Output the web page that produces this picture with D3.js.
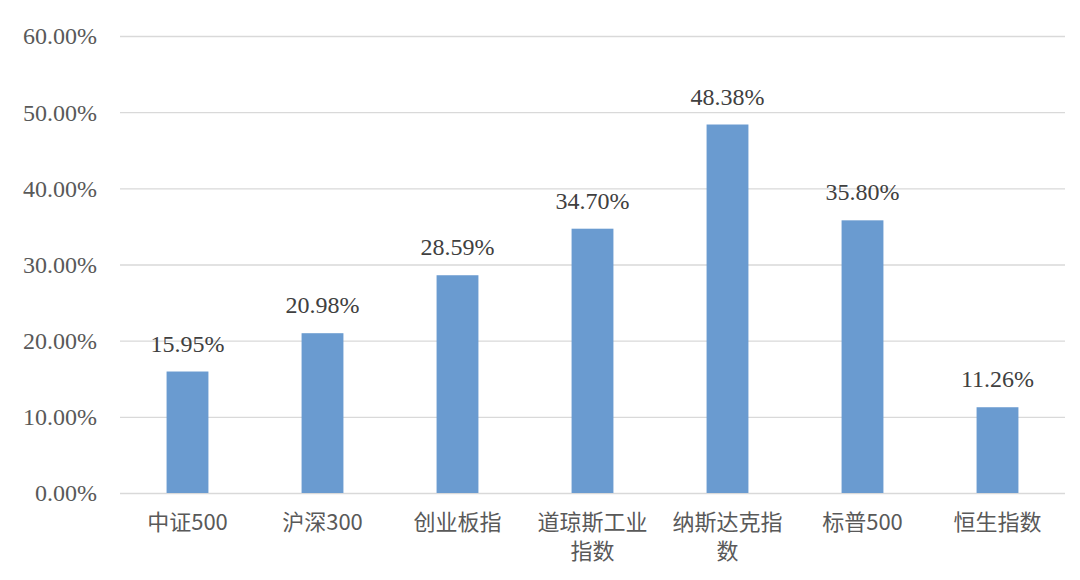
<!DOCTYPE html>
<html><head><meta charset="utf-8">
<script src="https://cdn.jsdelivr.net/npm/d3@7"></script>
<style>body{margin:0;background:#fff}</style>
</head><body>
<svg id="c" width="1080" height="580"></svg>
<script>
const categories = ["中证500","沪深300","创业板指","道琼斯工业指数","纳斯达克指数","标普500","恒生指数"];
const values = [15.95, 20.98, 28.59, 34.70, 48.38, 35.80, 11.26];
const yTicks = [0, 10, 20, 30, 40, 50, 60];

(function () {
const svg = d3.select("#c");
const mLeft = 120, mRight = 1065, mTop = 36, mBottom = 493;
const x = d3.scaleBand().domain(categories).range([mLeft, mRight]).paddingInner(0.69).paddingOuter(0.345);
const y = d3.scaleLinear().domain([0, 60]).range([mBottom, mTop]);

// grid
svg.append("g").selectAll("line").data(yTicks).join("line")
  .attr("x1", mLeft).attr("x2", mRight)
  .attr("y1", d => y(d) + 0.5).attr("y2", d => y(d) + 0.5)
  .attr("stroke", "#d9d9d9").attr("stroke-width", 1.3);

// y labels
svg.append("g").selectAll("text").data(yTicks).join("text")
  .attr("x", 97).attr("y", d => y(d)).attr("dy", "0.35em")
  .attr("text-anchor", "end")
  .attr("font-family", "'Liberation Serif', serif").attr("font-size", 24)
  .attr("fill", "#595959")
  .text(d => d.toFixed(2) + "%");

// bars
svg.append("g").selectAll("rect").data(values).join("rect")
  .attr("x", (d, i) => x(categories[i]))
  .attr("width", x.bandwidth())
  .attr("y", d => y(d))
  .attr("height", d => y(0) - y(d))
  .attr("fill", "#6a9bd0");

// value labels
svg.append("g").selectAll("text").data(values).join("text")
  .attr("x", (d, i) => x(categories[i]) + x.bandwidth() / 2)
  .attr("y", d => y(d) - 20)
  .attr("text-anchor", "middle")
  .attr("font-family", "'Liberation Serif', serif").attr("font-size", 24)
  .attr("fill", "#404040")
  .text(d => d.toFixed(2) + "%");

// x labels
const xl = svg.append("g").selectAll("text").data(categories).join("text")
  .attr("text-anchor", "middle")
  .attr("font-family", "'Noto Sans CJK SC', sans-serif").attr("font-size", 22)
  .attr("fill", "#595959");
xl.each(function(d) {
  const chars = Array.from(d);
  const lines = [];
  if (chars.length > 5) { lines.push(chars.slice(0, 5).join("")); lines.push(chars.slice(5).join("")); }
  else lines.push(d);
  const cx = x(d) + x.bandwidth() / 2;
  d3.select(this).selectAll("tspan").data(lines).join("tspan")
    .attr("x", cx).attr("y", (l, i) => 530 + i * 29).text(l => l);
});
})();
</script>
</body></html>
